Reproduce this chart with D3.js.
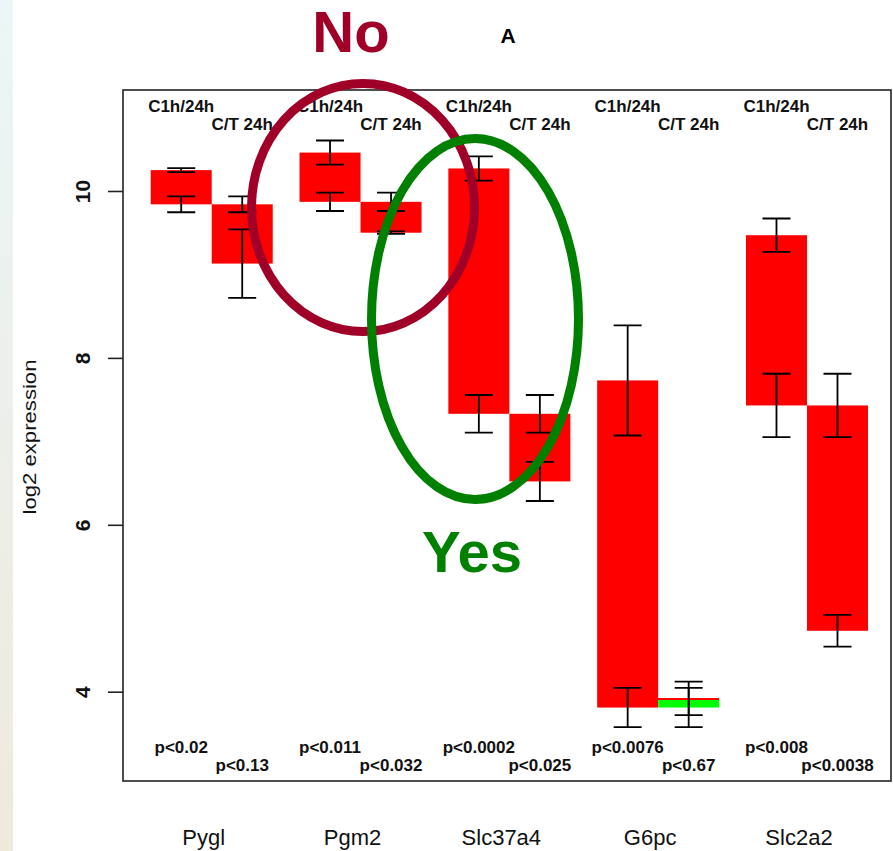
<!DOCTYPE html>
<html>
<head>
<meta charset="utf-8">
<script src="https://cdn.jsdelivr.net/npm/d3@7"></script>
<style>
  body { margin: 0; background: #fff; }
  svg { display: block; font-family: "Liberation Sans", Arial, sans-serif; }
</style>
</head>
<body>
<script>
// Genes and log2 expression (mean, error) per condition
const genes = ["Pygl", "Pgm2", "Slc37a4", "G6pc", "Slc2a2"];
const c1h = [10.25, 10.46, 10.27, 7.73, 9.47];
const c1hErr = [0.025, 0.145, 0.145, 0.66, 0.2];
const c24h = [9.84, 9.87, 7.33, 3.81, 7.43];
const c24hErr = [0.095, 0.11, 0.225, 0.235, 0.38];
const t24h = [9.13, 9.5, 6.52, 3.92, 4.73];
const t24hErr = [0.41, 0.015, 0.235, 0.2, 0.19];
const pTime = ["p<0.02", "p<0.011", "p<0.0002", "p<0.0076", "p<0.008"];
const pTreat = ["p<0.13", "p<0.032", "p<0.025", "p<0.67", "p<0.0038"];
const compLabels = ["C1h/24h", "C/T 24h"];
const yTicks = [4, 6, 8, 10];

const W = 893, H = 851;
const plot = { left: 123, top: 90, right: 891, bottom: 781 };

const svg = d3.select("body").append("svg")
  .attr("width", W)
  .attr("height", H);

// faint slide strip on the left edge
const defs = svg.append("defs");
const strip = defs.append("linearGradient").attr("id", "strip")
  .attr("x1", 0).attr("y1", 0).attr("x2", 0).attr("y2", 1);
strip.append("stop").attr("offset", "0%").attr("stop-color", "#eaf6f7");
strip.append("stop").attr("offset", "100%").attr("stop-color", "#efe9dc");
svg.append("rect").attr("width", W).attr("height", H).attr("fill", "#fff");
svg.append("rect").attr("width", 13).attr("height", H).attr("fill", "url(#strip)");

const y = d3.scaleLinear().domain([2.93, 11.21]).range([plot.bottom, plot.top]);
const x = d3.scaleBand().domain(genes).range([150.7, 868]).paddingInner(0.18).paddingOuter(0);
const sub = d3.scaleBand().domain([0, 1]).range([0, x.bandwidth()]);

// one floating bar per comparison: from -> to, each end with its error
const bars = [];
genes.forEach((g, i) => {
  bars.push({ gene: g, k: 0, from: c1h[i], fromErr: c1hErr[i], to: c24h[i], toErr: c24hErr[i] });
  bars.push({ gene: g, k: 1, from: c24h[i], fromErr: c24hErr[i], to: t24h[i], toErr: t24hErr[i] });
});

const gBars = svg.append("g");
gBars.selectAll("rect")
  .data(bars)
  .join("rect")
  .attr("x", d => x(d.gene) + sub(d.k))
  .attr("width", sub.bandwidth())
  .attr("y", d => y(Math.max(d.from, d.to)))
  .attr("height", d => Math.abs(y(d.from) - y(d.to)))
  .attr("fill", d => d.to > d.from ? "#00ff00" : "#ff0000");

// red rim on the top of rising bars
gBars.selectAll("line")
  .data(bars.filter(d => d.to > d.from))
  .join("line")
  .attr("x1", d => x(d.gene) + sub(d.k))
  .attr("x2", d => x(d.gene) + sub(d.k) + sub.bandwidth())
  .attr("y1", d => Math.round(y(d.to)) + 1)
  .attr("y2", d => Math.round(y(d.to)) + 1)
  .attr("stroke", "#ff0000")
  .attr("stroke-width", 2)
  .attr("shape-rendering", "crispEdges");

// error bars at both ends of every bar
const errs = [];
bars.forEach(d => {
  const cx = x(d.gene) + sub(d.k) + sub.bandwidth() / 2;
  errs.push({ cx, v: d.from, e: d.fromErr });
  errs.push({ cx, v: d.to, e: d.toErr });
});
const capW = 14;
const gErr = svg.append("g").attr("stroke", "#000").attr("stroke-width", 1.8).attr("fill", "none");
gErr.selectAll("path")
  .data(errs)
  .join("path")
  .attr("d", d => {
    const a = y(d.v + d.e), b = y(d.v - d.e);
    return `M${d.cx - capW},${a}H${d.cx + capW}M${d.cx},${a}V${b}M${d.cx - capW},${b}H${d.cx + capW}`;
  });

// box and y axis
svg.append("rect")
  .attr("x", plot.left).attr("y", plot.top)
  .attr("width", plot.right - plot.left).attr("height", plot.bottom - plot.top)
  .attr("fill", "none").attr("stroke", "#222").attr("stroke-width", 1.6);

const yAxis = svg.append("g")
  .attr("transform", `translate(${plot.left},0)`)
  .call(d3.axisLeft(y).tickValues(yTicks).tickSize(15).tickSizeOuter(0).tickFormat(d3.format("d")));
yAxis.select(".domain").remove();
yAxis.selectAll("line").attr("stroke", "#222").attr("stroke-width", 1.6);
yAxis.selectAll("text")
  .attr("transform", "rotate(-90)")
  .attr("x", 0).attr("y", -33).attr("dy", 0)
  .attr("text-anchor", "middle")
  .style("font-family", "'Liberation Sans', Arial, sans-serif")
  .style("font-size", "21px")
  .style("font-weight", "bold")
  .attr("fill", "#111");

svg.append("text")
  .attr("transform", "translate(36,437) rotate(-90)")
  .attr("text-anchor", "middle")
  .attr("textLength", 155).attr("lengthAdjust", "spacingAndGlyphs")
  .style("font-size", "18px")
  .attr("fill", "#111")
  .text("log2 expression");

// comparison labels at top, p-values at bottom
const center = (g, k) => x(g) + sub(k) + sub.bandwidth() / 2;
const small = { size: "17px", weight: "bold" };
genes.forEach((g, i) => {
  compLabels.forEach((lab, k) => {
    svg.append("text")
      .attr("x", center(g, k)).attr("y", k === 0 ? 112 : 130)
      .attr("text-anchor", "middle")
      .style("font-size", small.size).style("font-weight", small.weight)
      .attr("fill", "#111")
      .text(lab);
  });
  [pTime[i], pTreat[i]].forEach((lab, k) => {
    svg.append("text")
      .attr("x", center(g, k)).attr("y", k === 0 ? 753 : 771)
      .attr("text-anchor", "middle")
      .style("font-size", small.size).style("font-weight", small.weight)
      .attr("fill", "#111")
      .text(lab);
  });
});

// gene names
svg.append("g").selectAll("text")
  .data(genes)
  .join("text")
  .attr("x", d => x(d) + x.bandwidth() / 2 - 8)
  .attr("y", 845)
  .attr("text-anchor", "middle")
  .style("font-size", "22px")
  .attr("fill", "#111")
  .text(d => d);

svg.append("text")
  .attr("x", 508).attr("y", 43)
  .attr("text-anchor", "middle")
  .style("font-size", "21px").style("font-weight", "bold")
  .text("A");

// annotation ellipses
svg.append("ellipse")
  .attr("cx", 363).attr("cy", 207.5).attr("rx", 111.5).attr("ry", 124)
  .attr("fill", "none").attr("stroke", "#a00028").attr("stroke-width", 9);
svg.append("ellipse")
  .attr("cx", 475).attr("cy", 319).attr("rx", 103.5).attr("ry", 180.5)
  .attr("fill", "none").attr("stroke", "#008000").attr("stroke-width", 9);

svg.append("text")
  .attr("x", 351).attr("y", 52)
  .attr("text-anchor", "middle")
  .style("font-size", "58px").style("font-weight", "bold")
  .attr("fill", "#a00028")
  .text("No");
svg.append("text")
  .attr("x", 472).attr("y", 572)
  .attr("text-anchor", "middle")
  .style("font-size", "58px").style("font-weight", "bold")
  .attr("fill", "#008000")
  .text("Yes");
</script>
</body>
</html>
